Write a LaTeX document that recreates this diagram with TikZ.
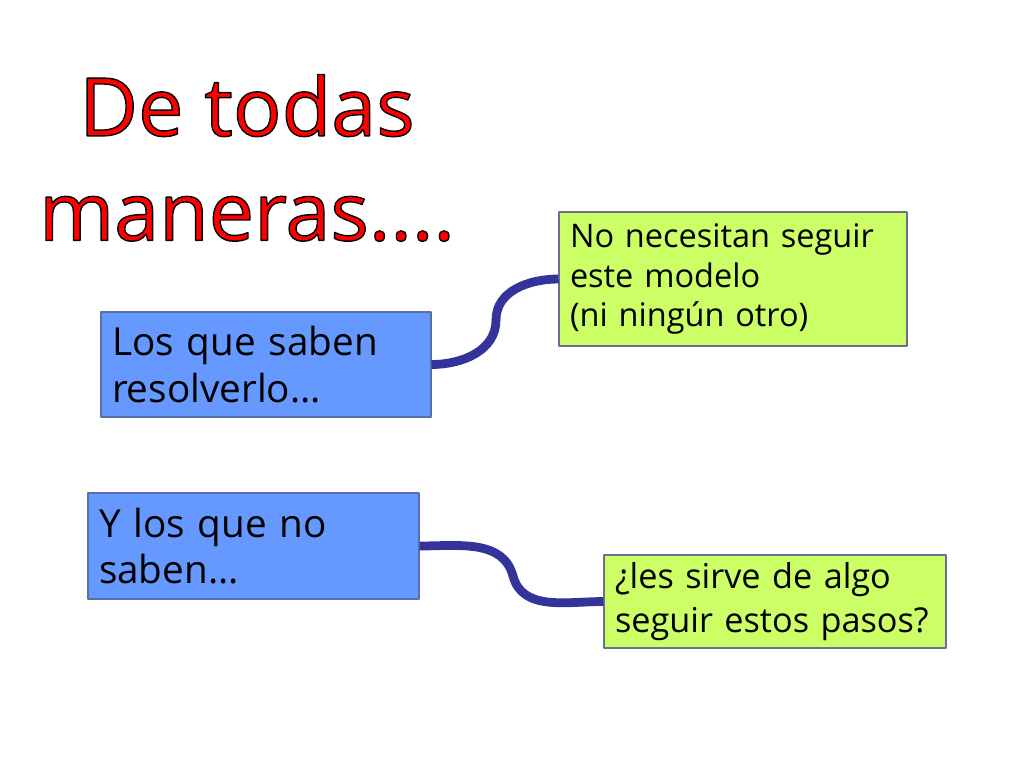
\documentclass[tikz,border=0pt]{standalone}
\usepackage{fontspec}
\setmainfont{Open Sans}
\hyphenpenalty=10000
\definecolor{cajaazul}{HTML}{6699FF}
\definecolor{bordeazul}{HTML}{5A6FA8}
\definecolor{cajaverde}{HTML}{CCFF66}
\definecolor{bordeverde}{HTML}{6B7090}
\definecolor{enlace}{HTML}{333399}
\definecolor{rojotitulo}{HTML}{FF0000}
\newcommand{\contorno}[1]{\special{pdf:literal direct 2 Tr 0.8 w 0 0 0 RG}#1\special{pdf:literal direct 0 Tr}}
\begin{document}
\begin{tikzpicture}[x=0.02cm,y=-0.02cm, line join=round, line cap=round,
    azul/.style={draw=bordeazul, fill=cajaazul, line width=0.6pt, inner xsep=0.22cm, align=left,
        font=\fontsize{22}{26.6}\selectfont},
    verde/.style={draw=bordeverde, fill=cajaverde, line width=0.6pt, inner xsep=0.22cm, align=left},
    enlaza/.style={draw=enlace, line width=5pt, line cap=butt}]
                \useasboundingbox[fill=white] (0,0) rectangle (1024,768);
                % titulo
                \node[text=rojotitulo, align=center, font=\fontsize{46}{59.5}\selectfont] (titulo) at (247,158)
                    {\contorno{De todas}\\ \contorno{maneras....}};
                % cajas
                \node[azul, minimum width=330*0.02cm, minimum height=105*0.02cm, text width=308*0.02cm] (saben) at (266,364.5)
                    {Los que saben\\ resolverlo\ldots};
                \node[azul, minimum width=331*0.02cm, minimum height=106*0.02cm, text width=309*0.02cm] (nosaben) at (253.5,546)
                    {Y los que no\\ saben\ldots};
                \node[verde, minimum width=348*0.02cm, minimum height=134*0.02cm, text width=326*0.02cm,
                    font=\fontsize{18.5}{22.7}\selectfont] (modelo) at (733,279)
                    {No necesitan seguir\\ este modelo\\ (ni ningún otro)};
                \node[verde, minimum width=342*0.02cm, minimum height=93*0.02cm, text width=320*0.02cm,
                    font=\fontsize{19.5}{25}\selectfont] (pasos) at (775,601.5)
                    {¿les sirve de algo\\ seguir estos pasos?};
                % enlaces
                \coordinate (m1) at (496,320);
                \coordinate (m2) at (513,576);
                \draw[enlaza] (saben.east) to[out=0,in=-90] (m1) to[out=90,in=180] (modelo.west);
                \draw[enlaza] (nosaben.east) to[out=0,in=105] (m2) to[out=-75,in=180] (pasos.west);
            \end{tikzpicture}
\end{document}
